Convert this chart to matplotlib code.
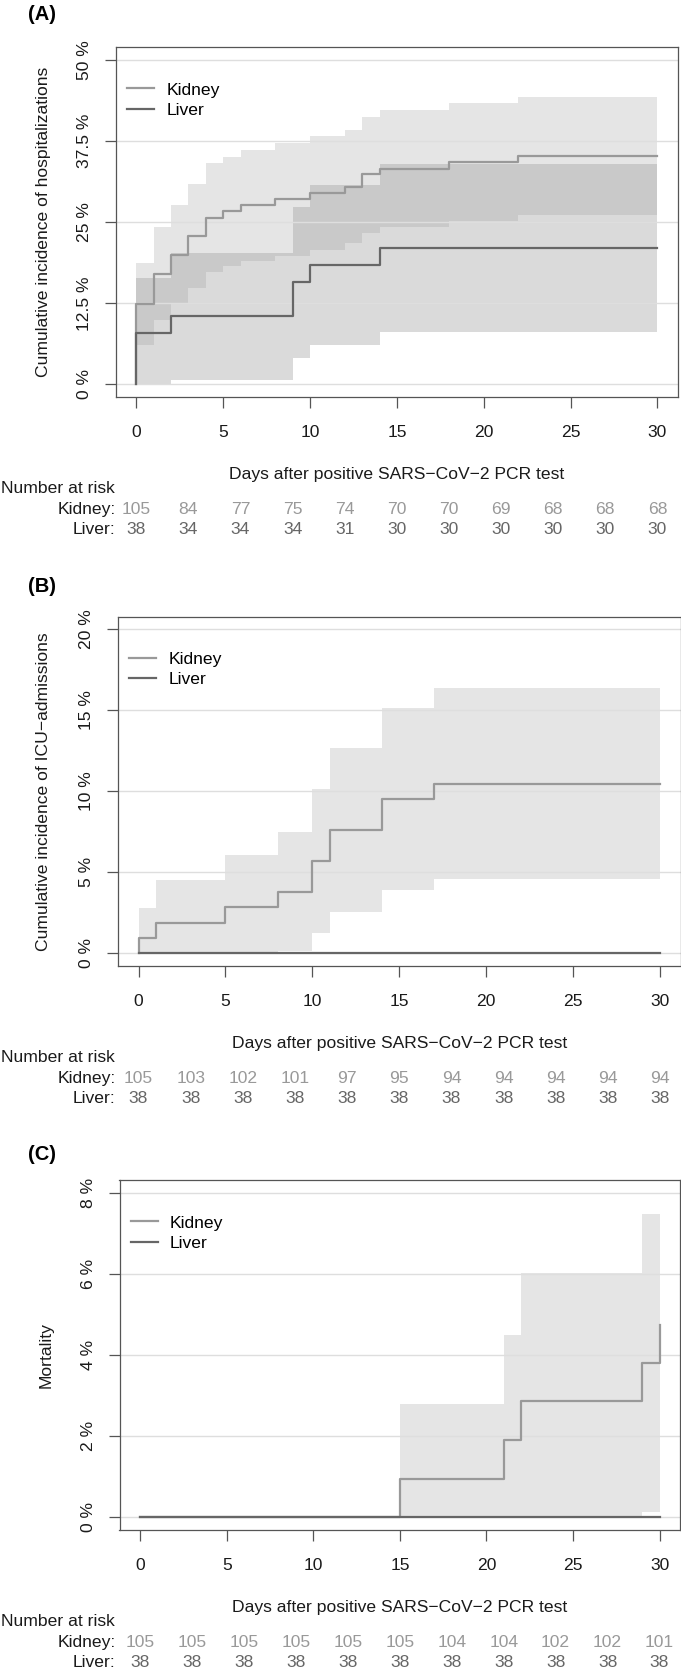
import matplotlib
matplotlib.use('Agg')
import matplotlib.pyplot as plt
import matplotlib.transforms as mtransforms
import numpy as np

plt.rcParams['font.family'] = ['Liberation Sans', 'DejaVu Sans']

# ---- data (percent) ----
# (A) hospitalizations
hosp_kid_t = [0, 1, 2, 3, 4, 5, 6, 8, 10, 12, 13, 14, 18, 22, 30]
hosp_kid_y = [12.4, 17.1, 20.0, 22.9, 25.7, 26.7, 27.6, 28.6, 29.5, 30.5, 32.4, 33.3, 34.3, 35.2, 35.2]
hosp_kid_hi = [18.7, 24.3, 27.6, 30.9, 34.1, 35.1, 36.1, 37.2, 38.3, 39.3, 41.3, 42.4, 43.4, 44.4, 44.4]
hosp_kid_lo = [6.0, 9.9, 12.4, 14.8, 17.4, 18.25, 19.0, 19.8, 20.7, 21.8, 23.3, 24.3, 25.2, 26.1, 26.1]
hosp_liv_t = [0, 2, 9, 10, 14, 30]
hosp_liv_y = [7.9, 10.5, 15.8, 18.4, 21.1, 21.1]
hosp_liv_hi = [16.4, 20.2, 27.4, 30.7, 34.0, 34.0]
hosp_liv_lo = [0.0, 0.6, 4.1, 6.0, 8.0, 8.0]
hosp_risk_kid = [105, 84, 77, 75, 74, 70, 70, 69, 68, 68, 68]
hosp_risk_liv = [38, 34, 34, 34, 31, 30, 30, 30, 30, 30, 30]

# (B) ICU admissions
icu_kid_t = [0, 1, 5, 8, 10, 11, 14, 17, 30]
icu_kid_y = [0.95, 1.9, 2.86, 3.81, 5.71, 7.62, 9.52, 10.48, 10.48]
icu_kid_hi = [2.82, 4.52, 6.06, 7.5, 10.17, 12.68, 15.13, 16.36, 16.36]
icu_kid_lo = [0.0, 0.0, 0.0, 0.14, 1.27, 2.57, 3.9, 4.6, 4.6]
icu_liv_t = [0, 30]
icu_liv_y = [0.0, 0.0]
icu_risk_kid = [105, 103, 102, 101, 97, 95, 94, 94, 94, 94, 94]
icu_risk_liv = [38] * 11

# (C) mortality
mort_kid_t = [0, 15, 21, 22, 29, 30]
mort_kid_y = [0.0, 0.95, 1.9, 2.86, 3.81, 4.76]
mort_kid_hi = [0.0, 2.8, 4.51, 6.03, 7.48, 7.48]
mort_kid_lo = [0.0, 0.0, 0.0, 0.0, 0.14, 0.14]
mort_liv_t = [0, 30]
mort_liv_y = [0.0, 0.0]
mort_risk_kid = [105, 105, 105, 105, 105, 105, 104, 104, 102, 102, 101]
mort_risk_liv = [38] * 11

risk_days = [0, 3, 6, 9, 12, 15, 18, 21, 24, 27, 30]
x_ticks = [0, 5, 10, 15, 20, 25, 30]

kid_col = '#999999'
liv_col = '#666666'
txt_col = '#1a1a1a'
fs = 12.6

W, H = 681, 1672
fig = plt.figure(figsize=(W / 100, H / 100), dpi=100)


def px_axes(left, top, right, bottom):
    return fig.add_axes([left / W, 1 - bottom / H, (right - left) / W, (bottom - top) / H])


def fy(y):
    # pixel row from top -> figure fraction
    return 1 - y / H


def draw_panel(box, letter, letter_y, ylab, ylab_x, yticks, ylabels, ytop,
               kid, liv, risk_k, risk_l):
    left, top, right, bottom = box
    ax = px_axes(left, top, right, bottom)
    pad_y = ytop * 0.04
    ax.set_xlim(-1.2, 31.2)
    ax.set_ylim(-pad_y, ytop + pad_y)

    # confidence bands
    if liv.get('hi') is not None:
        ax.fill_between(liv['t'], liv['lo'], liv['hi'], step='post',
                        color=liv_col, alpha=0.24, lw=0, zorder=1)
    if kid.get('hi') is not None:
        i0 = kid['band_from']
        ax.fill_between(kid['t'][i0:], kid['lo'][i0:], kid['hi'][i0:],
                        step='post', color=kid_col, alpha=0.25, lw=0, zorder=1)

    for yv in yticks:
        ax.axhline(yv, color='#dedede', lw=1.0, zorder=2)

    # curves start at 0 on day 0
    ax.step([0] + list(kid['t']), [0] + list(kid['y']), where='post',
            color=kid_col, lw=1.6, zorder=3, label='Kidney')
    ax.step([0] + list(liv['t']), [0] + list(liv['y']), where='post',
            color=liv_col, lw=1.6, zorder=4, label='Liver')

    ax.legend(loc='upper left', bbox_to_anchor=(0.02, 0.9), frameon=False,
              fontsize=fs, handlelength=1.55, handletextpad=0.7,
              borderpad=0, borderaxespad=0, labelspacing=0.3)

    for sp in ax.spines.values():
        sp.set_color('#555555')
        sp.set_linewidth(0.9)

    ax.set_xticks(x_ticks)
    ax.set_xticklabels([str(v) for v in x_ticks])
    ax.set_yticks(yticks)
    ax.set_yticklabels(ylabels)
    ax.tick_params(axis='both', direction='out', length=8, width=0.9,
                   color='#555555', labelsize=fs, labelcolor=txt_col)
    ax.tick_params(axis='x', pad=17.3)
    ax.tick_params(axis='y', pad=14.5, labelrotation=90)
    plt.setp(ax.get_xticklabels(), va='center')
    plt.setp(ax.get_yticklabels(), va='center', ha='center')

    # y label
    fig.text(ylab_x / W, fy((top + bottom) / 2), ylab, fontsize=fs, color=txt_col,
             rotation=90, ha='center', va='center')

    fig.text(41.7 / W, fy(letter_y), letter, fontsize=14.5, fontweight='bold',
             ha='center', va='center')

    cx = (left + right) / 2
    fig.text(cx / W, fy(bottom + 77.5),
             'Days after positive SARS\u2212CoV\u22122 PCR test',
             fontsize=fs, ha='center', va='center', color=txt_col)
    fig.text(1 / W, fy(bottom + 91), 'Number at risk', fontsize=fs,
             ha='left', va='center', color=txt_col)
    fig.text(115.5 / W, fy(bottom + 112), 'Kidney:', fontsize=fs,
             ha='right', va='center', color=txt_col)
    fig.text(115.5 / W, fy(bottom + 132.5), 'Liver:', fontsize=fs,
             ha='right', va='center', color=txt_col)
    tr = mtransforms.blended_transform_factory(ax.transData, fig.transFigure)
    for d, nk, nl in zip(risk_days, risk_k, risk_l):
        ax.text(d, fy(bottom + 112), str(nk), transform=tr, fontsize=fs,
                ha='center', va='center', color=kid_col, clip_on=False)
        ax.text(d, fy(bottom + 132.5), str(nl), transform=tr, fontsize=fs,
                ha='center', va='center', color=liv_col, clip_on=False)
    return ax


draw_panel((115.5, 47.3, 678.3, 397.3), '(A)', 14.5,
           'Cumulative incidence of hospitalizations', 43.6,
           [0, 12.5, 25, 37.5, 50], ['0 %', '12.5 %', '25 %', '37.5 %', '50 %'], 50,
           dict(t=hosp_kid_t, y=hosp_kid_y, hi=hosp_kid_hi, lo=hosp_kid_lo, band_from=0),
           dict(t=hosp_liv_t, y=hosp_liv_y, hi=hosp_liv_hi, lo=hosp_liv_lo),
           hosp_risk_kid, hosp_risk_liv)

draw_panel((117.7, 616.5, 680.9, 966.3), '(B)', 586,
           'Cumulative incidence of ICU\u2212admissions', 43.6,
           [0, 5, 10, 15, 20], ['0 %', '5 %', '10 %', '15 %', '20 %'], 20,
           dict(t=icu_kid_t, y=icu_kid_y, hi=icu_kid_hi, lo=icu_kid_lo, band_from=0),
           dict(t=icu_liv_t, y=icu_liv_y, hi=None),
           icu_risk_kid, icu_risk_liv)

draw_panel((119.5, 1180.3, 680.3, 1530.3), '(C)', 1154,
           'Mortality', 45.8,
           [0, 2, 4, 6, 8], ['0 %', '2 %', '4 %', '6 %', '8 %'], 8,
           dict(t=mort_kid_t, y=mort_kid_y, hi=mort_kid_hi, lo=mort_kid_lo, band_from=1),
           dict(t=mort_liv_t, y=mort_liv_y, hi=None),
           mort_risk_kid, mort_risk_liv)

fig.savefig('out.png', dpi=100)
